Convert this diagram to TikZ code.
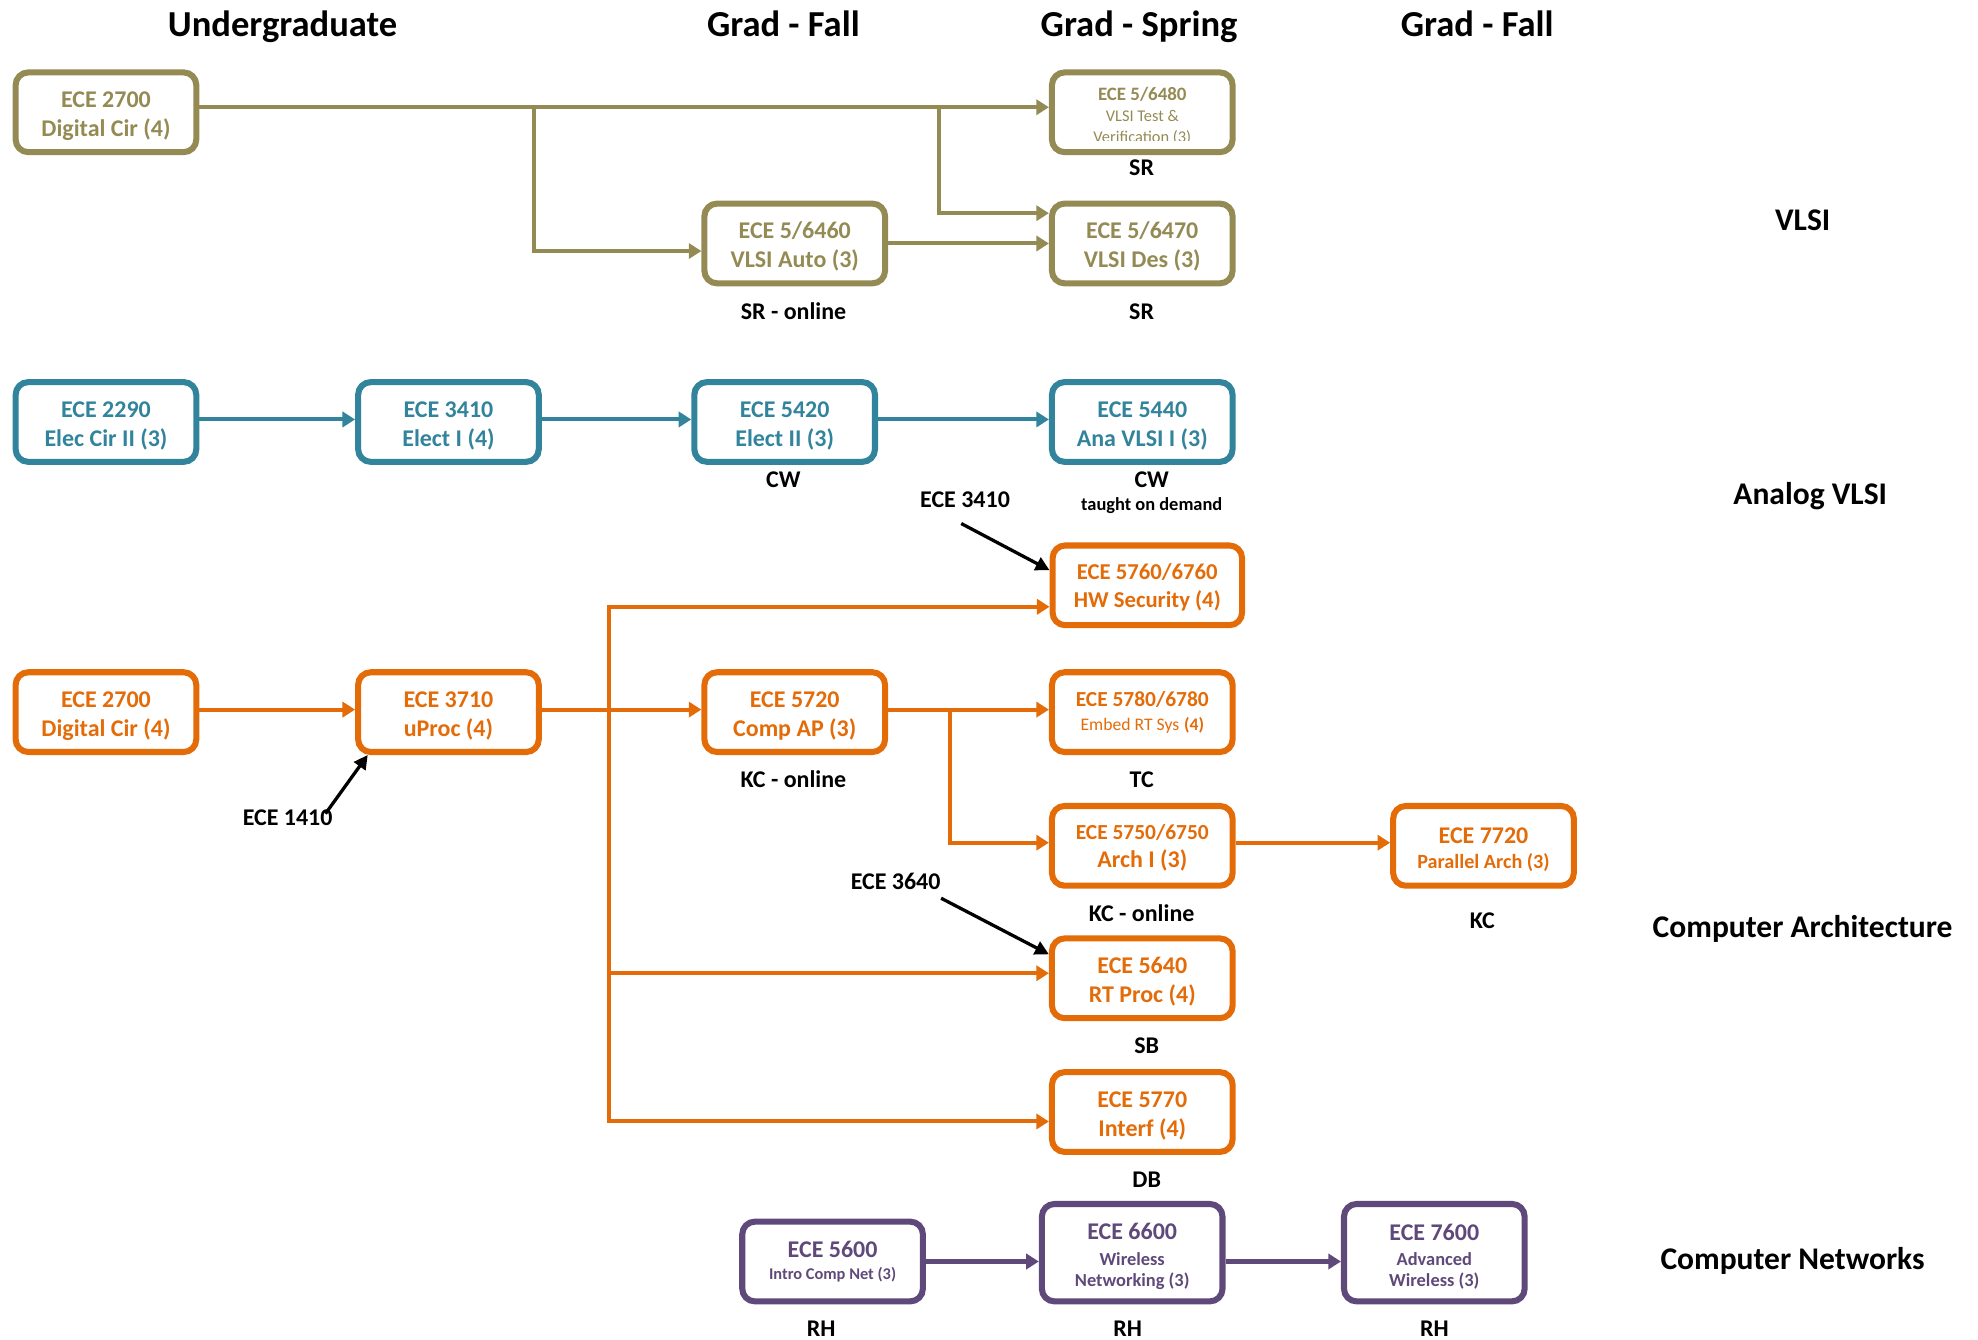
\documentclass[tikz,border=0pt]{standalone}
\usepackage{fontspec}
\setmainfont{Carlito}
\usetikzlibrary{arrows.meta,calc}
\definecolor{olv}{HTML}{948A54}
\definecolor{tea}{HTML}{31849B}
\definecolor{org}{HTML}{E36C09}
\definecolor{pur}{HTML}{5F497A}
\newcommand{\tpad}[1][9.2pt]{\rule{0pt}{#1}}
\begin{document}
\begin{tikzpicture}[x=0.5pt,y=-0.5pt,
  box/.style={draw, line width=2.4pt, rounded corners=5pt, minimum width=71.6pt, minimum height=31.6pt,
    align=center, inner sep=1pt, font=\bfseries\fontsize{9.5}{11.5}\selectfont},
  vbox/.style={box, draw=olv, text=olv},
  abox/.style={box, draw=tea, text=tea},
  cbox/.style={box, draw=org, text=org},
  nbox/.style={box, draw=pur, text=pur},
  conn/.style={line width=1.6pt, -{Triangle[length=5pt,width=6pt]}},
  vconn/.style={conn, draw=olv},
  aconn/.style={conn, draw=tea},
  cconn/.style={conn, draw=org},
  nconn/.style={conn, draw=pur},
  lbl/.style={font=\bfseries\fontsize{9.5}{11.5}\selectfont, inner sep=0pt},
  hdr/.style={font=\bfseries\fontsize{14.5}{17}\selectfont, anchor=base, inner sep=0pt},
  cat/.style={font=\bfseries\fontsize{12.5}{15}\selectfont, anchor=base, inner sep=0pt},
  note/.style={line width=1.3pt, draw=black, -{Triangle[length=5.5pt,width=5.5pt]}}
]
\useasboundingbox (0,0) rectangle (1568,1062);

% headers
\node[hdr] (h1) at (224,29) {Undergraduate};
\node[hdr] (h2) at (621,29) {Grad - Fall};
\node[hdr] (h3) at (903,29) {Grad - Spring};
\node[hdr] (h4) at (1171,29) {Grad - Fall};

% categories
\node[cat] (t1) at (1429,183) {VLSI};
\node[cat] (t2) at (1435,400) {Analog VLSI};
\node[cat] (t3) at (1429,743) {Computer Architecture};
\node[cat] (t4) at (1421,1006) {Computer Networks};

% VLSI
\node[vbox] (A1) at (84,89) {\tpad ECE 2700\\Digital Cir (4)};
\node[vbox] (A2) at (905.5,89) {};
\begin{scope}
  \clip (834,57) rectangle (977,111.5);
  \node[font=\bfseries\fontsize{7.5}{9}\selectfont, text=olv, inner sep=0pt] (A2a) at (905.5,75) {ECE 5/6480};
  \node[font=\fontsize{6.5}{8}\selectfont, text=olv, inner sep=0pt] (A2b) at (905.5,92) {VLSI Test \&};
  \node[font=\fontsize{6.5}{8}\selectfont, text=olv, anchor=base, inner sep=0pt] (A2c) at (905.5,113) {Verification (3)};
\end{scope}
\node[vbox] (A3) at (630,193) {\tpad ECE 5/6460\\VLSI Auto (3)};
\node[vbox] (A4) at (905.5,193) {\tpad ECE 5/6470\\VLSI Des (3)};
\node[lbl] (lA2) at (905,133) {SR};
\node[lbl] (lA3) at (629,247) {SR - online};
\node[lbl] (lA4) at (905,247) {SR};

\coordinate (j1) at (423,85);
\coordinate (j2) at (744,85);
\draw[vconn] ([yshift=2pt]A1.east) -- ([yshift=2pt]A2.west);
\draw[vconn] (j1) |- ([yshift=-3pt]A3.west);
\draw[vconn] (j2) |- ([yshift=12pt]A4.west);
\draw[vconn] (A3.east) -- (A4.west);

% Analog VLSI
\node[abox] (B1) at (84,334.5) {\tpad ECE 2290\\Elec Cir II (3)};
\node[abox] (B2) at (355.5,334.5) {\tpad ECE 3410\\Elect I (4)};
\node[abox] (B3) at (622,334.5) {\tpad ECE 5420\\Elect II (3)};
\node[abox] (B4) at (905.5,334.5) {\tpad ECE 5440\\Ana VLSI I (3)};
\node[lbl] (lB3) at (621,380) {CW};
\node[lbl] (lB4) at (913,380) {CW};
\node[lbl, font=\bfseries\fontsize{7.3}{9}\selectfont] (lB4b) at (913,401) {taught on demand};
\draw[aconn] ([yshift=1pt]B1.east) -- ([yshift=1pt]B2.west);
\draw[aconn] ([yshift=1pt]B2.east) -- ([yshift=1pt]B3.west);
\draw[aconn] ([yshift=1pt]B3.east) -- ([yshift=1pt]B4.west);

% Computer Architecture
\node[cbox] (C1) at (84,564.5) {\tpad ECE 2700\\Digital Cir (4)};
\node[cbox] (C2) at (355.5,564.5) {\tpad ECE 3710\\uProc (4)};
\node[cbox] (C3) at (630,564.5) {\tpad ECE 5720\\Comp AP (3)};
\node[cbox, minimum width=75.1pt, font=\bfseries\fontsize{9}{11}\selectfont] (C4) at (909.5,464)
  {\tpad[7.8pt]ECE 5760/6760\\HW Security (4)};
\node[cbox, font=\bfseries\fontsize{8.5}{9.5}\selectfont] (C5) at (905.5,564.5)
  {ECE 5780/6780\\{\mdseries\fontsize{7}{9}\selectfont Embed RT Sys} {\fontsize{7}{9}\selectfont(4)}};
\node[cbox, font=\bfseries\fontsize{8.5}{11.25}\selectfont] (C6) at (905.5,670.5)
  {\tpad[7.5pt]ECE 5750/6750\\{\fontsize{9.5}{11}\selectfont Arch I (3)}};
\node[cbox, font=\bfseries\fontsize{8}{10}\selectfont] (C7) at (1176,670.5)
  {{\fontsize{9.5}{11}\selectfont\tpad ECE 7720}\\Parallel Arch (3)};
\node[cbox] (C8) at (905.5,775.5) {\tpad ECE 5640\\RT Proc (4)};
\node[cbox] (C9) at (905.5,881.5) {\tpad ECE 5770\\Interf (4)};
\node[lbl] (lC3) at (629,618) {KC - online};
\node[lbl] (lC5) at (905,618) {TC};
\node[lbl] (lC6) at (905,724) {KC - online};
\node[lbl] (lC7) at (1175,730) {KC};
\node[lbl] (lC8) at (909,829) {SB};
\node[lbl] (lC9) at (909,935) {DB};

\draw[cconn] ([yshift=1pt]C1.east) -- ([yshift=1pt]C2.west);
\draw[cconn] ([yshift=1pt]C2.east) -- ([yshift=1pt]C3.west);
\coordinate (k1) at (483,562);
\draw[cconn] (k1) |- ([yshift=-8.5pt]C4.west);
\draw[cconn] (k1) |- ([yshift=2pt]C8.west);
\draw[cconn] (k1) |- ([yshift=-3.75pt]C9.west);
\draw[cconn] ([yshift=1pt]C3.east) -- ([yshift=1pt]C5.west);
\coordinate (k2) at (753,562);
\draw[cconn] (k2) |- ([yshift=1.25pt]C6.west);
\draw[cconn] ([yshift=1.25pt]C6.east) -- ([yshift=1.25pt]C7.west);

% prerequisite notes
\node[lbl] (n3410) at (765,396) {ECE 3410};
\coordinate (s3410) at (762,415);
\draw[note] (s3410) -- ([yshift=-11pt]C4.north west);
\node[lbl] (n1410) at (228,648) {ECE 1410};
\coordinate (s1410) at (258,645);
\draw[note] (s1410) -- ([xshift=5pt]C2.south west);
\node[lbl] (n3640) at (710,699) {ECE 3640};
\coordinate (s3640) at (746,712);
\draw[note] (s3640) -- ([yshift=-7.5pt]C8.north west);

% Computer Networks
\node[nbox, font=\bfseries\fontsize{6.5}{9}\selectfont] (D1) at (660,1000)
  {{\fontsize{9.5}{11}\selectfont ECE 5600}\\Intro Comp Net (3)};
\node[nbox, minimum height=38.6pt, font=\bfseries\fontsize{7.3}{8.5}\selectfont] (D2) at (897.5,993)
  {{\fontsize{9.5}{11}\selectfont\tpad[9.6pt]ECE 6600}\\[1.5pt]Wireless\\Networking (3)};
\node[nbox, minimum height=38.6pt, font=\bfseries\fontsize{7.3}{8.5}\selectfont] (D3) at (1137,993)
  {{\fontsize{9.5}{11}\selectfont\tpad[9.6pt]ECE 7600}\\[1.5pt]Advanced\\Wireless (3)};
\node[lbl] (lD1) at (651,1053) {RH};
\node[lbl] (lD2) at (894,1053) {RH};
\node[lbl] (lD3) at (1137,1053) {RH};
\draw[nconn] (D1.east) -- ([yshift=-3.5pt]D2.west);
\draw[nconn] ([yshift=-3.5pt]D2.east) -- ([yshift=-3.5pt]D3.west);
\end{tikzpicture}
\end{document}
